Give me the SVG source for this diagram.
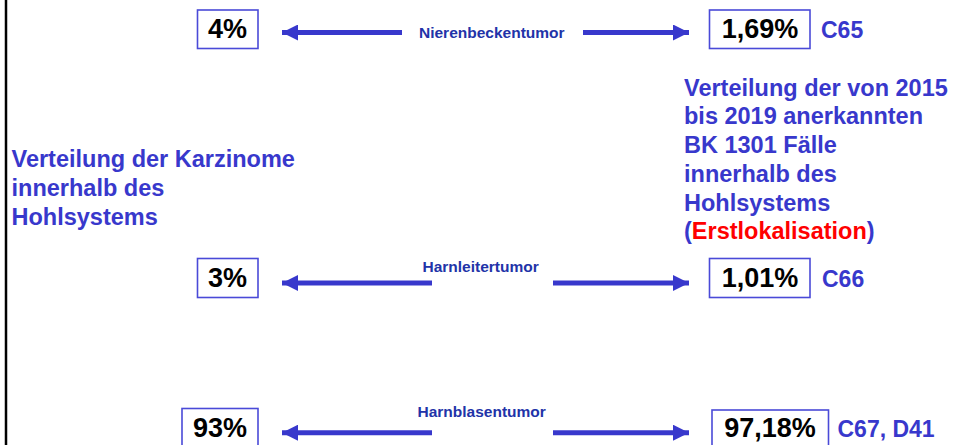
<svg xmlns="http://www.w3.org/2000/svg" width="958" height="445" viewBox="0 0 958 445">
<style>
text{font-family:"Liberation Sans",Arial,sans-serif;font-weight:bold}
.box{fill:#fff;stroke:#4a4ad8;stroke-width:1.6}
.pct{font-size:27px;fill:#000;text-anchor:middle}
.code{font-size:23px;fill:#3838cc}
.lbl{font-size:15.5px;fill:#2233a8}
.para{font-size:23.5px;fill:#3838cc}
.red{fill:#ff0000}
.arr{stroke:#3838cc;stroke-width:5;fill:none;marker-end:url(#ah)}
</style>
<defs>
<marker id="ah" markerUnits="userSpaceOnUse" markerWidth="16" markerHeight="16" viewBox="0 0 14 14" refX="14" refY="7" orient="auto">
<path d="M0,0 L14,7 L0,14 Z" fill="#3838cc"/>
</marker>
</defs>
<rect width="958" height="445" fill="#fff"/>
<line x1="6" y1="0" x2="6" y2="445" stroke="#000" stroke-width="2.5"/>

<g id="connectors">
<line class="arr" x1="402" y1="32.5" x2="282" y2="32.5"/>
<line class="arr" x1="583" y1="32.5" x2="689" y2="32.5"/>
<line class="arr" x1="432" y1="283" x2="282" y2="283"/>
<line class="arr" x1="553" y1="283" x2="689" y2="283"/>
<line class="arr" x1="432" y1="432.7" x2="282" y2="432.7"/>
<line class="arr" x1="553" y1="432.7" x2="689" y2="432.7"/>
<text class="lbl" x="419" y="37.5">Nierenbeckentumor</text>
<text class="lbl" x="422.5" y="271.5">Harnleitertumor</text>
<text class="lbl" x="417.5" y="416.5">Harnblasentumor</text>
</g>

<g id="left-4">
<rect class="box" x="197.5" y="10" width="60.5" height="38.5"/>
<text class="pct" x="227.5" y="37.5">4%</text>
</g>
<g id="right-169">
<rect class="box" x="709.5" y="10" width="100.5" height="38.5"/>
<text class="pct" x="760" y="37.5">1,69%</text>
<text class="code" x="821" y="37.5">C65</text>
</g>
<g id="left-3">
<rect class="box" x="197.5" y="258.5" width="60.5" height="39"/>
<text class="pct" x="227.5" y="286.7">3%</text>
</g>
<g id="right-101">
<rect class="box" x="709.5" y="258.5" width="100.5" height="39"/>
<text class="pct" x="760" y="286.7">1,01%</text>
<text class="code" x="822" y="286.7">C66</text>
</g>
<g id="left-93">
<rect class="box" x="182" y="408.5" width="76" height="45"/>
<text class="pct" x="220" y="437.3">93%</text>
</g>
<g id="right-9718">
<rect class="box" x="712" y="410" width="116.5" height="45"/>
<text class="pct" x="770" y="437.3">97,18%</text>
<text class="code" x="837.5" y="437.3">C67, D41</text>
</g>

<g id="left-title">
<text class="para" x="11.5" y="167.3">Verteilung der Karzinome</text>
<text class="para" x="11.5" y="196">innerhalb des</text>
<text class="para" x="11.5" y="224.7">Hohlsystems</text>
</g>
<g id="right-title">
<text class="para" x="684" y="95.5">Verteilung der von 2015</text>
<text class="para" x="684" y="124.4">bis 2019 anerkannten</text>
<text class="para" x="684" y="153.3">BK 1301 Fälle</text>
<text class="para" x="684" y="182">innerhalb des</text>
<text class="para" x="684" y="210.7">Hohlsystems</text>
<text class="para" x="684" y="239.4">(<tspan class="red">Erstlokalisation</tspan>)</text>
</g>
</svg>
